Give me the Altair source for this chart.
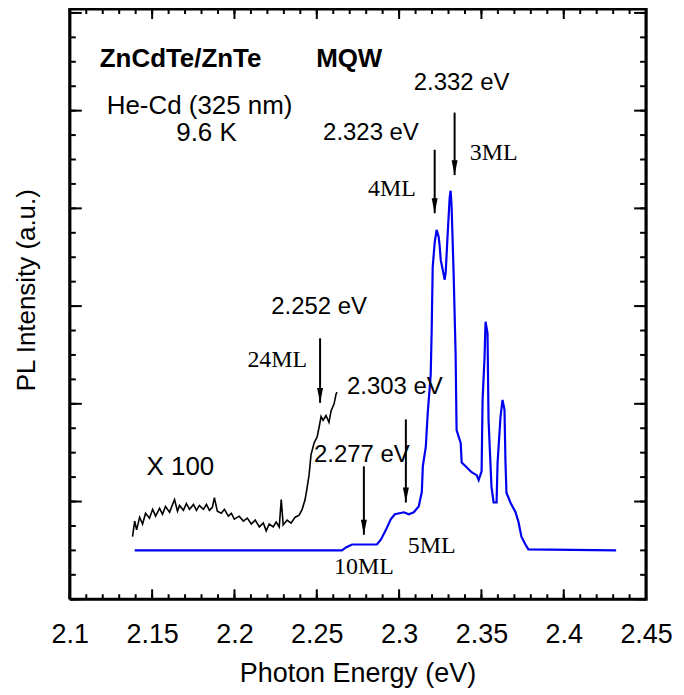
import altair as alt
import pandas as pd

# ---------------- data ----------------
blue_E = [2.1394, 2.2653, 2.2677, 2.2714, 2.2865, 2.2889, 2.2920, 2.2950, 2.2974,
          2.3029, 2.3059, 2.3089, 2.3119, 2.3138, 2.3144, 2.3162, 2.3174, 2.3192,
          2.3198, 2.3204, 2.3216, 2.3228, 2.3240, 2.3246, 2.3253, 2.3265, 2.3277,
          2.3283, 2.3295, 2.3307, 2.3313, 2.3319, 2.3331, 2.3343, 2.3349, 2.3374,
          2.3380, 2.3410, 2.3440, 2.3471, 2.3483, 2.3501, 2.3507, 2.3519, 2.3525,
          2.3537, 2.3543, 2.3561, 2.3574, 2.3592, 2.3598, 2.3616, 2.3628, 2.3640,
          2.3646, 2.3652, 2.3676, 2.3707, 2.3725, 2.3743, 2.3767, 2.3785, 2.4318]
blue_I = [0.50, 0.50, 0.53, 0.56, 0.56, 0.61, 0.71, 0.82, 0.87,
          0.89, 0.87, 0.89, 0.95, 1.10, 1.36, 1.56, 1.91, 2.30,
          2.77, 3.40, 3.65, 3.78, 3.71, 3.62, 3.47, 3.37, 3.27,
          3.35, 3.74, 4.11, 4.18, 4.01, 3.34, 2.52, 1.73, 1.60,
          1.40, 1.35, 1.30, 1.27, 1.22, 1.31, 2.04, 2.48, 2.84,
          2.72, 1.84, 1.15, 0.99, 0.99, 1.40, 1.87, 2.04, 1.94,
          1.40, 1.09, 0.99, 0.89, 0.79, 0.64, 0.56, 0.51, 0.50]

black_E = [2.1381, 2.1394, 2.1406, 2.1424, 2.1442, 2.1460, 2.1484, 2.1503, 2.1521,
           2.1545, 2.1563, 2.1581, 2.1606, 2.1624, 2.1636, 2.1654, 2.1666, 2.1690,
           2.1708, 2.1727, 2.1751, 2.1769, 2.1787, 2.1811, 2.1830, 2.1848, 2.1866,
           2.1878, 2.1896, 2.1920, 2.1939, 2.1963, 2.1981, 2.1999, 2.2029, 2.2054,
           2.2078, 2.2102, 2.2126, 2.2151, 2.2175, 2.2193, 2.2211, 2.2235, 2.2253,
           2.2272, 2.2284, 2.2296, 2.2320, 2.2344, 2.2369, 2.2393, 2.2411, 2.2429,
           2.2441, 2.2453, 2.2465, 2.2484, 2.2502, 2.2514, 2.2526, 2.2538, 2.2556,
           2.2574, 2.2587, 2.2605, 2.2617, 2.2623]
black_I = [0.64, 0.80, 0.71, 0.84, 0.77, 0.88, 0.83, 0.92, 0.85,
           0.93, 0.87, 0.95, 0.89, 0.97, 1.02, 0.90, 0.96, 0.91,
           0.98, 0.92, 0.97, 0.91, 0.96, 0.92, 0.97, 0.91, 0.94,
           1.04, 0.90, 0.88, 0.92, 0.85, 0.88, 0.82, 0.85, 0.80,
           0.83, 0.77, 0.81, 0.74, 0.78, 0.70, 0.77, 0.74, 0.79,
           0.74, 1.02, 0.76, 0.81, 0.78, 0.84, 0.86, 0.92, 1.02,
           1.14, 1.27, 1.48, 1.60, 1.66, 1.76, 1.87, 1.83, 1.88,
           1.81, 1.93, 2.00, 2.10, 2.12]

arrow_E = [2.2520, 2.2786, 2.3041, 2.3216, 2.3337]
arrow_top = [2.67, 1.36, 1.84, 4.60, 4.98]
arrow_tip = [2.01, 0.66, 0.99, 3.95, 4.34]

ev_text = ["2.252 eV", "2.277 eV", "2.303 eV", "2.323 eV", "2.332 eV"]
ev_x = [2.2514, 2.2774, 2.2974, 2.2829, 2.3380]
ev_y = [2.99, 1.48, 2.17, 4.77, 5.28]

ml_text = ["24ML", "10ML", "5ML", "4ML", "3ML"]
ml_x = [2.2260, 2.2786, 2.3198, 2.2956, 2.3574]
ml_y = [2.45, 0.33, 0.54, 4.20, 4.57]

bold_text = ["ZnCdTe/ZnTe", "MQW"]
bold_x = [2.1182, 2.2496]
bold_y = [5.53, 5.53]

left_text = ["He-Cd (325 nm)", "X 100"]
left_x = [2.1224, 2.1466]
left_y = [5.05, 1.35]

temp_text = ["9.6 K"]
temp_x = [2.1830]
temp_y = [4.77]

x_domain = [2.1, 2.45]
y_domain = [0, 6.04]
x_major = [2.1, 2.15, 2.2, 2.25, 2.3, 2.35, 2.4, 2.45]
x_minor = [2.10, 2.11, 2.12, 2.13, 2.14, 2.15, 2.16, 2.17, 2.18, 2.19, 2.20, 2.21,
           2.22, 2.23, 2.24, 2.25, 2.26, 2.27, 2.28, 2.29, 2.30, 2.31, 2.32, 2.33,
           2.34, 2.35, 2.36, 2.37, 2.38, 2.39, 2.40, 2.41, 2.42, 2.43, 2.44, 2.45]
y_major = [0, 1, 2, 3, 4, 5, 6]
y_minor = [0, 0.25, 0.5, 0.75, 1, 1.25, 1.5, 1.75, 2, 2.25, 2.5, 2.75, 3, 3.25,
           3.5, 3.75, 4, 4.25, 4.5, 4.75, 5, 5.25, 5.5, 5.75, 6]

# ---------------- layout ----------------
W, H = 578, 592
SANS = "Liberation Sans"
SERIF = "Liberation Serif"

xscale = alt.Scale(domain=x_domain, nice=False, zero=False)
yscale = alt.Scale(domain=y_domain, nice=False, zero=False)
xaxis = alt.Axis(values=x_major, format="~g", ticks=False, tickSize=0, domain=False,
                 grid=False, labelFontSize=27, labelFont=SANS, labelColor="black",
                 labelFlush=False, labelOverlap=False, labelBaseline="middle",
                 labelPadding=35)


def X(field):
    return alt.X(field, type="quantitative", scale=xscale, axis=xaxis, title=None)


def Y(field):
    return alt.Y(field, type="quantitative", scale=yscale, axis=None, title=None)


blue_df = pd.DataFrame({"E": blue_E, "I": blue_I})
black_df = pd.DataFrame({"E": black_E, "I": black_I})
arrow_df = pd.DataFrame({"E": arrow_E, "top": arrow_top, "tip": arrow_tip})

blue = alt.Chart(blue_df).mark_line(color="#0000f0", strokeWidth=2.2).encode(
    x=X("E"), y=Y("I"), order="E:Q")
black = alt.Chart(black_df).mark_line(color="black", strokeWidth=1.6).encode(
    x=X("E"), y=Y("I"), order="E:Q")

arrow_lines = alt.Chart(arrow_df).mark_rule(color="black", strokeWidth=2).encode(
    x=X("E"), y=Y("top"), y2="tip:Q")
arrow_heads = alt.Chart(arrow_df).mark_point(
    shape="M-0.4,-2L0.4,-2L0,0Z", size=225, filled=True, color="black",
    opacity=1, strokeWidth=0).encode(x=X("E"), y=Y("tip"))


def text_layer(xs, ys, texts, align, font, size, weight="normal"):
    df = pd.DataFrame({"x": xs, "y": ys, "t": texts})
    return alt.Chart(df).mark_text(align=align, baseline="middle", font=font,
                                   fontSize=size, fontWeight=weight,
                                   color="black").encode(
        x=X("x"), y=Y("y"), text="t:N")


ev_layer = text_layer(ev_x, ev_y, ev_text, "center", SANS, 24)
ml_layer = text_layer(ml_x, ml_y, ml_text, "center", SERIF, 24)
bold_layer = text_layer(bold_x, bold_y, bold_text, "left", SANS, 26, "bold")
left_layer = text_layer(left_x, left_y, left_text, "left", SANS, 26)
temp_layer = text_layer(temp_x, temp_y, temp_text, "center", SANS, 26)

# inward ticks on all four sides
xmaj = pd.DataFrame({"v": x_major})
xmin = pd.DataFrame({"v": x_minor})
ymaj = pd.DataFrame({"v": y_major})
ymin = pd.DataFrame({"v": y_minor})

tick_layers = []
for df, ln in [(xmaj, 10), (xmin, 5)]:
    tick_layers.append(alt.Chart(df).mark_rule(color="black", strokeWidth=2).encode(
        x=X("v"), y=alt.value(H), y2=alt.value(H - ln)))
    tick_layers.append(alt.Chart(df).mark_rule(color="black", strokeWidth=2).encode(
        x=X("v"), y=alt.value(0), y2=alt.value(ln)))
for df, ln in [(ymaj, 12), (ymin, 6)]:
    tick_layers.append(alt.Chart(df).mark_rule(color="black", strokeWidth=2).encode(
        y=Y("v"), x=alt.value(0), x2=alt.value(ln)))
    tick_layers.append(alt.Chart(df).mark_rule(color="black", strokeWidth=2).encode(
        y=Y("v"), x=alt.value(W), x2=alt.value(W - ln)))

# plot frame drawn as a closed polyline through the domain corners
frame_df = pd.DataFrame({
    "fx": [x_domain[0], x_domain[1], x_domain[1], x_domain[0], x_domain[0]],
    "fy": [y_domain[0], y_domain[0], y_domain[1], y_domain[1], y_domain[0]],
    "o": [0, 1, 2, 3, 4],
})
frame = alt.Chart(frame_df).mark_line(color="black", strokeWidth=3.2,
                                      strokeJoin="miter").encode(
    x=X("fx"), y=Y("fy"), order="o:Q")

one = pd.DataFrame({"t": ["PL Intensity (a.u.)"]})
ytitle = alt.Chart(one).mark_text(angle=270, align="center", baseline="middle",
                                  font=SANS, fontSize=26, color="black").encode(
    x=alt.value(-43), y=alt.value(282), text="t:N")
one2 = pd.DataFrame({"t": ["Photon Energy (eV)"]})
xtitle = alt.Chart(one2).mark_text(align="center", baseline="middle",
                                   font=SANS, fontSize=27, color="black").encode(
    x=alt.value(W / 2), y=alt.value(667), text="t:N")

chart = alt.layer(
    frame, *tick_layers, black, blue, arrow_lines, arrow_heads,
    ev_layer, ml_layer, bold_layer, left_layer, temp_layer, ytitle, xtitle
).properties(
    width=W, height=H,
    background="white",
    autosize=alt.AutoSizeParams(type="none"),
    padding={"left": 62, "top": 0, "right": 30, "bottom": 90},
)

chart.save("out.html", embed_options={"renderer": "svg", "actions": False})
